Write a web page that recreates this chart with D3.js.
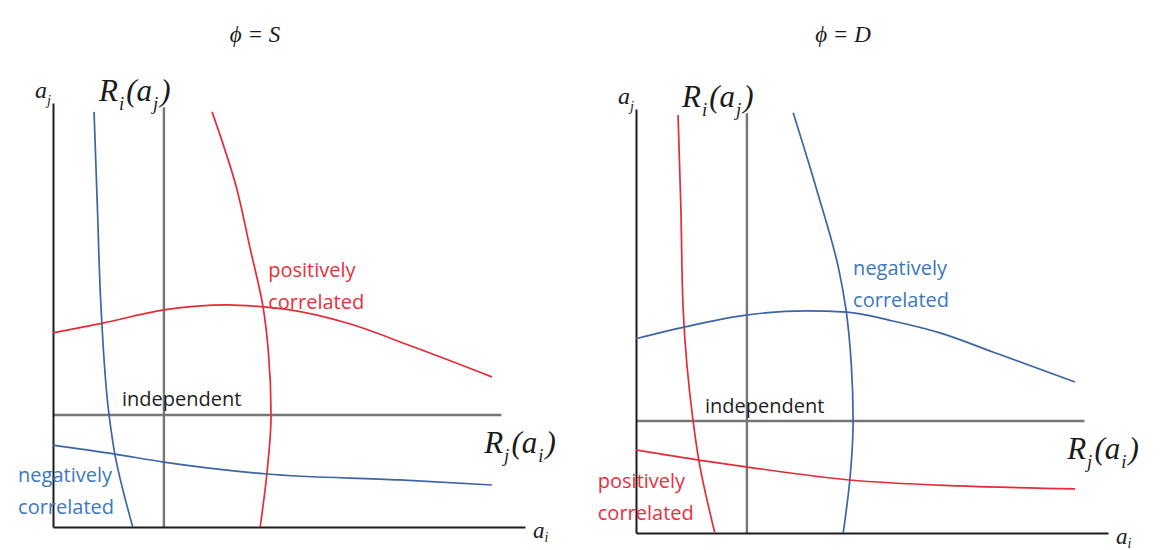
<!DOCTYPE html>
<html>
<head>
<meta charset="utf-8">
<script src="https://cdn.jsdelivr.net/npm/d3@7"></script>
<style>
  html, body { margin: 0; padding: 0; background: #ffffff; }
  svg { display: block; }
</style>
</head>
<body>
<svg id="chart" width="1160" height="550"></svg>
<script>
// ---------------------------------------------------------------
// Data: best-response curves in effort space, points are [a_i, a_j]
// on a 0–100 scale for both efforts.
// ---------------------------------------------------------------
const panelKeys   = ["S", "D"];
const panelTitles = ["ϕ = S", "ϕ = D"];

// Independent benchmarks (flat / vertical responses)
const riIndependent = [[23.5, 0], [23.5, 99]];
const rjIndependent = [[0, 26.4], [95, 26.4]];

// Panel S
const riNegS = [[8.7, 97.9], [9.4, 75.5], [10.2, 51.2], [11.9, 26.2], [13.1, 17.2], [16.9, 0]];
const riPosS = [[33.7, 97.9], [39.0, 79.5], [41.7, 66.0], [44.5, 51.9], [45.6, 41.7], [46.2, 26.4], [45.3, 12.5], [43.9, 0]];
const rjPosS = [[0, 45.8], [10.6, 48.1], [23.5, 51.2], [36.9, 52.4], [44.5, 51.9], [50.2, 51.2], [62.3, 48.1], [76.3, 42.5], [93.0, 35.4]];
const rjNegS = [[0, 19.3], [13.1, 17.2], [23.5, 15.3], [45.3, 12.5], [73.5, 11.1], [93.0, 9.9]];

// Panel D
const riPosD = [[8.9, 98.6], [9.5, 76.9], [10.0, 52.6], [12.1, 26.4], [13.3, 17.2], [16.7, 0]];
const riNegD = [[33.3, 99.1], [38.3, 80.9], [43.0, 62.0], [44.5, 52.6], [45.6, 40.0], [46.0, 26.4], [45.3, 12.5], [43.9, 0]];
const rjNegD = [[0, 45.8], [10.4, 48.6], [23.3, 51.4], [36.2, 52.4], [44.7, 52.1], [54.4, 50.0], [64.4, 47.2], [75.6, 42.7], [93.0, 35.6]];
const rjPosD = [[0, 19.6], [13.3, 17.2], [23.3, 15.6], [45.3, 12.5], [68.6, 11.1], [93.0, 10.4]];

// Annotation text and its anchor in effort space
const labelsS = [
  { lines: ["positively", "correlated"], at: [45.6, 59.0], kind: "pos" },
  { lines: ["negatively", "correlated"], at: [-7.4, 10.6], kind: "neg" },
  { lines: ["independent"],              at: [14.6, 28.5], kind: "ind" }
];
const labelsD = [
  { lines: ["negatively", "correlated"], at: [46.0, 60.8], kind: "neg" },
  { lines: ["positively", "correlated"], at: [-8.1, 10.6], kind: "pos" },
  { lines: ["independent"],              at: [14.6, 28.3], kind: "ind" }
];

// ---------------------------------------------------------------
// Styling and layout
// ---------------------------------------------------------------
const RED  = "#e52b36";
const BLUE = "#3c64a6";
const RED_TEXT  = "#e8303c";
const BLUE_TEXT = "#3b78bf";
const GRAY = "#767676";
const AXIS = "#1c1c1c";
const textColor = { pos: RED_TEXT, neg: BLUE_TEXT, ind: "#1e1e1e" };

const plotW = 472, plotH = 424;
const origins = { S: [53, 527], D: [636, 533] };
const titleX  = { S: 255, D: 843 };

const svg = d3.select("#chart");

const x = d3.scaleLinear().domain([0, 100]).range([0, plotW]);
const y = d3.scaleLinear().domain([0, 100]).range([0, -plotH]);

// R_i curves run top-to-bottom, R_j curves run left-to-right
const lineV = d3.line().x(d => x(d[0])).y(d => y(d[1])).curve(d3.curveMonotoneY);
const lineH = d3.line().x(d => x(d[0])).y(d => y(d[1])).curve(d3.curveMonotoneX);
const straight = d3.line().x(d => x(d[0])).y(d => y(d[1]));

const MATH_FONT = "'Liberation Serif', 'DejaVu Serif', serif";
const TEXT_FONT = "'Open Sans', 'Noto Sans', sans-serif";

// Italic math label built from pieces; pieces flagged sub are subscripts
function mathLabel(g, px, py, pieces, size, gap, drop) {
  const t = g.append("text")
    .attr("x", px).attr("y", py)
    .attr("font-family", MATH_FONT)
    .attr("font-style", "italic")
    .attr("font-size", size)
    .attr("fill", "#1a1a1a");
  let shifted = false;
  pieces.forEach(p => {
    const s = t.append("tspan").text(p.t);
    if (p.sub) {
      s.attr("font-size", size * 0.6).attr("dy", size * drop).attr("dx", gap * 0.4);
      shifted = true;
    } else {
      if (shifted) { s.attr("dy", -size * drop); shifted = false; }
      s.attr("dx", gap);
    }
  });
  return t;
}

function drawPanel(key, riCurves, rjCurves, labels) {
  const [ox, oy] = origins[key];
  const g = svg.append("g").attr("transform", `translate(${ox},${oy})`);

  // Title
  svg.append("text")
    .attr("x", titleX[key]).attr("y", 42)
    .attr("text-anchor", "middle")
    .attr("font-family", MATH_FONT)
    .attr("font-style", "italic")
    .attr("font-size", 23)
    .attr("fill", "#1a1a1a")
    .text(panelTitles[panelKeys.indexOf(key)]);

  // Independent reference responses
  [riIndependent, rjIndependent].forEach(pts => {
    g.append("path").datum(pts)
      .attr("d", straight).attr("fill", "none")
      .attr("stroke", GRAY).attr("stroke-width", 2.4);
  });

  // Axes: bare lines, no ticks
  g.append("g")
    .call(d3.axisBottom(x).tickValues([]).tickSizeOuter(0).tickSize(0))
    .call(a => a.select(".domain").attr("stroke", AXIS).attr("stroke-width", 2));
  g.append("g")
    .call(d3.axisLeft(y).tickValues([]).tickSizeOuter(0).tickSize(0))
    .call(a => a.select(".domain").attr("stroke", AXIS).attr("stroke-width", 2));

  // Response curves
  riCurves.forEach(c => {
    g.append("path").datum(c.pts)
      .attr("d", lineV).attr("fill", "none")
      .attr("stroke", c.color).attr("stroke-width", 1.7);
  });
  rjCurves.forEach(c => {
    g.append("path").datum(c.pts)
      .attr("d", lineH).attr("fill", "none")
      .attr("stroke", c.color).attr("stroke-width", 1.7);
  });

  // Text annotations
  labels.forEach(l => {
    l.lines.forEach((s, i) => {
      g.append("text")
        .attr("x", x(l.at[0])).attr("y", y(l.at[1]) + i * 32)
        .attr("font-family", TEXT_FONT)
        .attr("font-size", 20)
        .attr("fill", textColor[l.kind])
        .text(s);
    });
  });

  // Axis and response-function names
  mathLabel(g, -18, -429, [{ t: "a" }, { t: "j", sub: true }], 24, 0, 0.28);
  mathLabel(g, x(9.3), -426, [{ t: "R" }, { t: "i", sub: true }, { t: "(a" }, { t: "j", sub: true }, { t: ")" }], 31, 2.2, 0.28);
  mathLabel(g, x(90.9), -74, [{ t: "R" }, { t: "j", sub: true }, { t: "(a" }, { t: "i", sub: true }, { t: ")" }], 31, 2.2, 0.28);
  mathLabel(g, x(101.7), 11, [{ t: "a" }, { t: "i", sub: true }], 23, 0, 0.18);
}

drawPanel("S",
  [{ pts: riNegS, color: BLUE }, { pts: riPosS, color: RED }],
  [{ pts: rjPosS, color: RED },  { pts: rjNegS, color: BLUE }],
  labelsS);

drawPanel("D",
  [{ pts: riPosD, color: RED },  { pts: riNegD, color: BLUE }],
  [{ pts: rjNegD, color: BLUE }, { pts: rjPosD, color: RED }],
  labelsD);
</script>
</body>
</html>
